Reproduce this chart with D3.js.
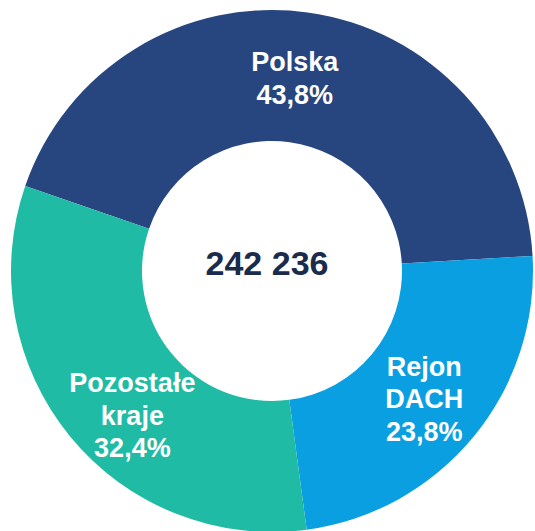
<!DOCTYPE html>
<html>
<head>
<meta charset="utf-8">
<title>Struktura - donut</title>
<script src="https://cdn.jsdelivr.net/npm/d3@7"></script>
<style>
    body { margin: 0; background: #fff; }
    text { font-family: Arial, "Liberation Sans", sans-serif; font-weight: bold; }
</style>
</head>
<body>
<svg width="535" height="531"></svg>
<script>
// data
var names = [["Polska"], ["Rejon", "DACH"], ["Pozostałe", "kraje"]];
var shares = [43.8, 23.8, 32.4];
var total = "242 236";

var colors = ["#27457e", "#0a9fe0", "#20bba4"];
// small nudges from the label centroid, per slice
var nudge = [[-4, 1], [1, 3], [12, 20]];

var svg = d3.select("svg");
var cx = 272, cy = 271;
var outerR = 261, innerR = 130;
var start = -71 * Math.PI / 180;

var pie = d3.pie().sort(null).value(function(d){ return d; })
    .startAngle(start).endAngle(start + 2 * Math.PI);
var arcs = pie(shares);

var arc = d3.arc().innerRadius(innerR).outerRadius(outerR);
var labelArc = d3.arc().innerRadius(196).outerRadius(196);

var g = svg.append("g").attr("transform", "translate(" + cx + "," + cy + ")");

g.selectAll("path")
    .data(arcs)
    .enter()
    .append("path")
        .attr("d", arc)
        .attr("fill", function(d, i){ return colors[i]; });

var fs = 27, lh = 32.5;
var fmt = function(v){ return d3.format(".1f")(v).replace(".", ",") + "%"; };

arcs.forEach(function(d, i) {
    var c = labelArc.centroid(d);
    var x = c[0] + nudge[i][0], y = c[1] + nudge[i][1];
    var lines = names[i].concat([fmt(shares[i])]);
    var first = y - (lines.length - 1) * lh / 2 + fs * 0.716 / 2;
    var t = g.append("text")
        .attr("text-anchor", "middle")
        .attr("fill", "#fff")
        .style("font-size", fs + "px");
    lines.forEach(function(s, k) {
        t.append("tspan").attr("x", x).attr("y", first + k * lh).text(s);
    });
});

g.append("text")
    .attr("x", -5)
    .attr("y", 4)
    .attr("text-anchor", "middle")
    .attr("fill", "#1a2b4c")
    .style("font-size", "34px")
    .text(total);
</script>
</body>
</html>
